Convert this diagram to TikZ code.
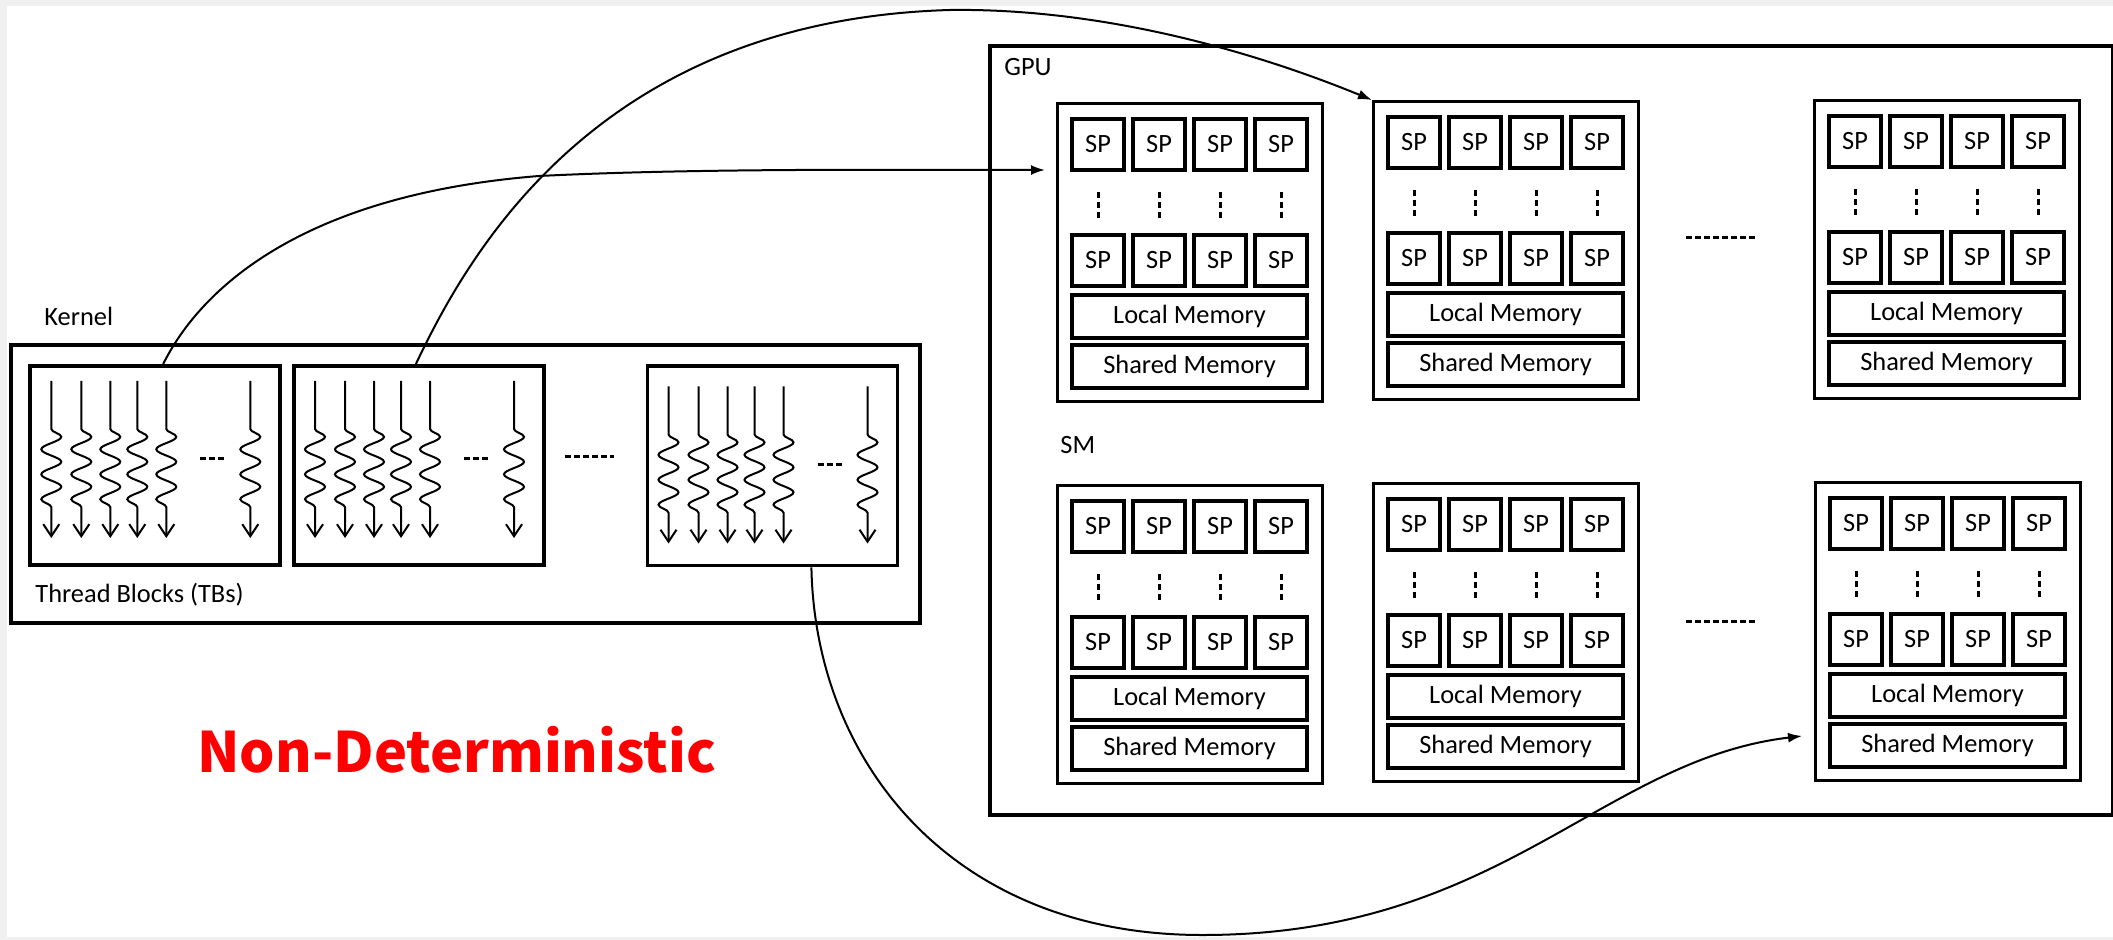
\documentclass[tikz,border=0pt]{standalone}
\usepackage{fontspec}
\setmainfont{Carlito}
\newfontfamily\ndfont{Noto Sans CJK SC}
\usetikzlibrary{arrows.meta,decorations.pathmorphing,calc}
\definecolor{bggray}{HTML}{F0F0F0}
\newcommand\smunit[3]{%
  \begin{scope}[shift={(#2,#3)}]
    \node[smbox] (#1) at (0,0) {};
    \foreach \xx [count=\i] in {42,103,164,225} {
      \node[spbox] (#1a\i) at (\xx,42.5) {SP};
      \node[spbox] (#1b\i) at (\xx,158.5) {SP};
      \draw[vdots] (\xx,90) -- (\xx,116);
    }
    \node[membox] (#1lm) at (133.5,214.5) {Local Memory};
    \node[membox] (#1sh) at (133.5,264.5) {Shared Memory};
  \end{scope}}
\newcommand\tblock[5]{%
  \node[tbbox] (#1) at (#2,#3) {};
  \foreach \dx in {23,53,82,109,138,222} \draw[thread] (#2+\dx,#3+#4) -- ++(0,157);
  \draw[tbdots] (#2+172,#3+#5) -- (#2+199,#3+#5);}
\begin{document}
\begin{tikzpicture}[x=0.5pt,y=-0.5pt,
  lbl/.style={font=\fontsize{13.2}{15}\selectfont, inner sep=0pt, anchor=base west},
  smbox/.style={draw, line width=1.6pt, anchor=north west, minimum width=132.5pt, minimum height=149pt, inner sep=0pt},
  spbox/.style={draw, line width=1.7pt, minimum width=26pt, minimum height=25.5pt, inner sep=0pt, font=\fontsize{13.2}{15}\selectfont},
  membox/.style={draw, line width=1.7pt, minimum width=117.5pt, minimum height=21.5pt, inner sep=0pt, font=\fontsize{13.2}{15}\selectfont},
  tbbox/.style={draw, line width=1.9pt, anchor=north west, minimum width=125pt, minimum height=99.5pt, inner sep=0pt},
  bigbox/.style={draw, line width=1.8pt, anchor=north west, inner sep=0pt},
  vdots/.style={line width=1.5pt, dash pattern=on 3pt off 2pt},
  tbdots/.style={line width=1.5pt, dash pattern=on 3pt off 1.5pt},
  hdots/.style={line width=1.5pt, dash pattern=on 3pt off 1.5pt},
  thread/.style={line width=1pt, -{Straight Barb[length=6pt,width=8pt]}, decorate,
    decoration={snake, amplitude=5pt, segment length=12.5pt, pre length=24pt, post length=14pt}},
  conn/.style={line width=1pt, -{Latex[length=7pt,width=5pt]}}]
\fill[bggray] (0,0) rectangle (2113,940);
\fill[white] (7,6) rectangle (2113,937);
\useasboundingbox (0,0) rectangle (2113,940);
% Kernel
\node[bigbox, minimum width=454.5pt, minimum height=139pt] (kernel) at (9,343) {};
\node[lbl] (kernellbl) at (44,326) {Kernel};
\node[lbl] (tblbl) at (35,602) {Thread Blocks (TBs)};
\tblock{tb1}{28.3}{364}{17}{95}
\tblock{tb2}{292}{364}{17}{95}
\tblock{tb3}{645.5}{364.5}{22}{100}
\draw[tbdots] (565,457) -- (614,457);
% GPU
\node[bigbox, minimum width=561.5pt, minimum height=384.5pt] (gpu) at (988,44) {};
\node[lbl] (gpulbl) at (1004,75.5) {GPU};
\node[lbl] (smlbl) at (1060,453.5) {SM};
\smunit{sm1}{1056}{102}
\smunit{sm2}{1372}{100}
\smunit{sm3}{1813}{99}
\smunit{sm4}{1056}{484}
\smunit{sm5}{1372}{482}
\smunit{sm6}{1814}{481}
\draw[hdots] (1686,238) -- (1755,238);
\draw[hdots] (1686,621) -- (1755,621);
% text
\node[font=\ndfont\bfseries\fontsize{27.85}{30}\selectfont, text=red, anchor=base west, inner sep=0pt] (nd) at (197,772.5) {Non-Deterministic};
% connectors
\draw[conn] ($(tb1.north)+(8,0)$) .. controls (200,290) and (300,195) .. (539,176) .. controls (700,168) and (900,170) .. ($(sm1.north west)+(-11,68)$);
\draw[conn] ($(tb2.north)+(-3,0)$) .. controls (470,250) and (600,20) .. (950,10) .. controls (1100,8) and (1250,50) .. (sm2.north west);
\draw[conn] ($(tb3.south)+(39,0)$) .. controls (815,760) and (950,934) .. (1200,935) .. controls (1500,936) and (1600,760) .. ($(sm6.north west)+(-12,255)$);
\end{tikzpicture}
\end{document}
